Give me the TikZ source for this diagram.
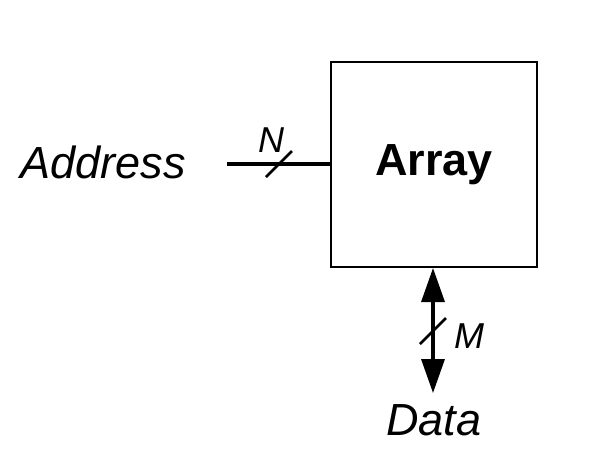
\documentclass[tikz,border=0pt]{standalone}
\usepackage{fontspec}
\setmainfont{Liberation Sans}
\usetikzlibrary{arrows.meta}
\tikzset{
  label/.style={font=\fontsize{22.5}{22.5}\selectfont\itshape, inner sep=0pt},
  buslabel/.style={font=\fontsize{18}{18}\selectfont\itshape, inner sep=0pt},
  bus/.style={line width=1.7pt},
  busslash/.style={line width=1.3pt}
}
\begin{document}
\begin{tikzpicture}[x=0.5pt,y=-0.5pt]
      \useasboundingbox (0,0) rectangle (592,468);
      \node[draw, line width=1pt, minimum width=103pt, minimum height=102.5pt,
        font=\fontsize{22.5}{22.5}\selectfont\bfseries] (array) at (434,164.5) {Array};
      \node[label, anchor=east] (address) at (186,162) {Address};
      \node[label] (data) at (434,420) {Data};
      \coordinate (addrin) at (227,164);
      \coordinate (dataout) at (433,393);
      \draw[bus] (addrin) -- (addrin -| array.west);
      \draw[bus, {Triangle[length=17pt,width=11.5pt]}-{Triangle[length=17pt,width=11.5pt]}]
        (array.south -| dataout) -- (dataout);
      % bus widths
      \foreach \cx / \cy / \name / \dx / \dy in {279/164/N/-8/-24, 433/331/M/36/5}{
        \draw[busslash] (\cx-13,\cy+13) -- (\cx+13,\cy-13);
        \node[buslabel] (width\name) at (\cx+\dx,\cy+\dy) {\name};
      }
    \end{tikzpicture}
\end{document}
